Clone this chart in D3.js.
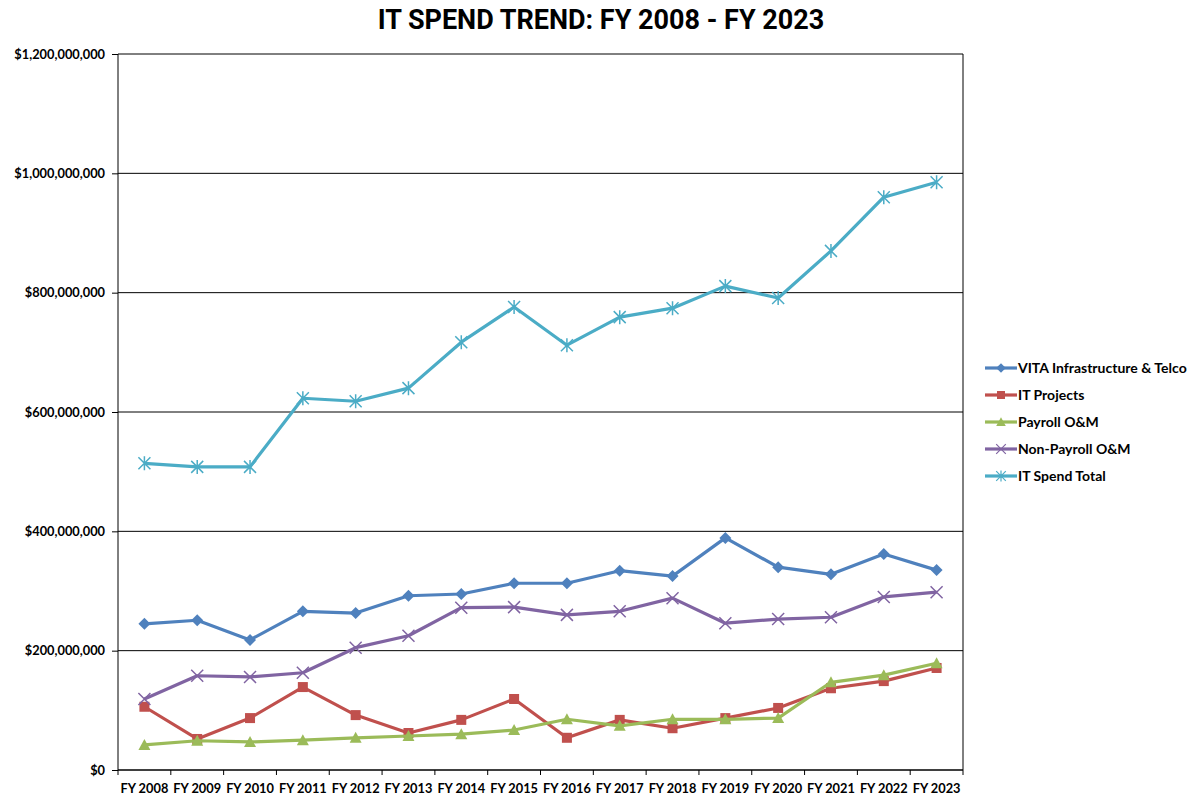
<!DOCTYPE html>
<html>
<head>
<meta charset="utf-8">
<title>IT Spend Trend</title>
<style>
  body { margin: 0; background: #fff; }
  svg text { font-family: "Lato", "Open Sans", sans-serif; }
  .title { font-family: Roboto, Arial, sans-serif; font-weight: bold; font-size: 27px; }
  .axis text { font-size: 12.8px; font-weight: bold; fill: #000; }
  .axis path, .axis line { stroke: #000; }
  .legend text { font-size: 14px; font-weight: bold; fill: #000; }
</style>
</head>
<body>
<svg width="1193" height="796"></svg>
<script src="https://d3js.org/d3.v7.min.js"></script>
<script>

var years = ["FY 2008", "FY 2009", "FY 2010", "FY 2011", "FY 2012", "FY 2013", "FY 2014", "FY 2015",
             "FY 2016", "FY 2017", "FY 2018", "FY 2019", "FY 2020", "FY 2021", "FY 2022", "FY 2023"];

var vitaInfra   = [245, 251, 218, 266, 263, 292, 295, 313, 313, 334, 325, 389, 340, 328, 362, 335];
var itProjects  = [106, 52, 87, 139, 92, 62, 84, 119, 54, 84, 70, 87, 104, 137, 149, 171];
var payrollOM   = [42, 49, 47, 50, 54, 57, 60, 67, 85, 74, 85, 85, 87, 147, 159, 179];
var nonPayroll  = [119, 158, 156, 163, 205, 225, 272, 273, 260, 266, 288, 246, 253, 256, 290, 298];
var spendTotal  = [514, 508, 508, 623, 618, 640, 717, 776, 712, 759, 774, 811, 791, 870, 960, 985];

var yTicks = [0, 200, 400, 600, 800, 1000, 1200];   // millions

var series = [
  { name: "VITA Infrastructure & Telco", values: vitaInfra,  color: "#4F81BD", marker: "diamond" },
  { name: "IT Projects",                 values: itProjects, color: "#C0504D", marker: "square" },
  { name: "Payroll O&M",                 values: payrollOM,  color: "#9BBB59", marker: "triangle" },
  { name: "Non-Payroll O&M",             values: nonPayroll, color: "#8064A2", marker: "cross" },
  { name: "IT Spend Total",              values: spendTotal, color: "#4BACC6", marker: "star" }
];

var svg = d3.select("svg"),
    margin = { top: 54, left: 118, right: 230, bottom: 26 },
    width = 1193 - margin.left - margin.right,
    height = 796 - margin.top - margin.bottom;

var g = svg.append("g").attr("transform", "translate(" + margin.left + "," + margin.top + ")");

var x = d3.scaleBand().domain(years).range([0, width]);
var y = d3.scaleLinear().domain([0, 1200]).range([height, 0]);

svg.append("text")
    .attr("class", "title")
    .attr("x", 601)
    .attr("y", 29)
    .attr("text-anchor", "middle")
    .text("IT SPEND TREND: FY 2008 - FY 2023");

// gridlines
g.selectAll(".grid")
  .data(yTicks)
  .enter().append("line")
    .attr("x1", 0).attr("x2", width)
    .attr("y1", function(d) { return y(d); })
    .attr("y2", function(d) { return y(d); })
    .attr("stroke", "#000")
    .attr("stroke-width", 1);

// right border
g.append("line")
    .attr("x1", width).attr("x2", width)
    .attr("y1", 0).attr("y2", height)
    .attr("stroke", "#000");

var yAxis = g.append("g")
    .attr("class", "axis")
    .call(d3.axisLeft(y).tickValues(yTicks).tickSize(6).tickPadding(7)
      .tickFormat(function(d) { return "$" + d3.format(",")(d * 1e6); }));
yAxis.select(".domain").attr("d", "M0," + height + "V0");

var xAxis = g.append("g")
    .attr("class", "axis")
    .attr("transform", "translate(0," + height + ")")
    .call(d3.axisBottom(x).tickSize(0).tickPadding(14));
xAxis.select(".domain").attr("d", "M0,0H" + width);
xAxis.selectAll(".sep")
  .data(d3.range(years.length + 1))
  .enter().append("line")
    .attr("x1", function(i) { return i * x.bandwidth(); })
    .attr("x2", function(i) { return i * x.bandwidth(); })
    .attr("y1", 0).attr("y2", 5)
    .attr("stroke", "#000");

var line = d3.line()
    .x(function(d, i) { return x(years[i]) + x.bandwidth() / 2; })
    .y(function(d) { return y(d); });

function drawMarker(sel, type, color) {
  if (type === "diamond") {
    sel.append("path").attr("d", "M0,-6L6,0L0,6L-6,0Z").attr("fill", color);
  } else if (type === "square") {
    sel.append("rect").attr("x", -5).attr("y", -5).attr("width", 10).attr("height", 10).attr("fill", color);
  } else if (type === "triangle") {
    sel.append("path").attr("d", "M0,-6L6,5L-6,5Z").attr("fill", color);
  } else if (type === "cross") {
    sel.append("path").attr("d", "M-6,-6L6,6M-6,6L6,-6").attr("stroke", color).attr("stroke-width", 1.5);
  } else if (type === "star") {
    sel.append("path").attr("d", "M-6,-6L6,6M-6,6L6,-6M0,-7L0,7").attr("stroke", color).attr("stroke-width", 1.5);
  }
}

series.forEach(function(s) {
  g.append("path")
      .datum(s.values)
      .attr("fill", "none")
      .attr("stroke", s.color)
      .attr("stroke-width", 3.2)
      .attr("stroke-linejoin", "round")
      .attr("d", line);

  g.selectAll(null)
    .data(s.values)
    .enter().append("g")
      .attr("transform", function(d, i) {
        return "translate(" + (x(years[i]) + x.bandwidth() / 2) + "," + y(d) + ")";
      })
      .each(function() { drawMarker(d3.select(this), s.marker, s.color); });
});

// legend
var legend = svg.append("g")
    .attr("class", "legend")
    .attr("transform", "translate(985,368)");

var item = legend.selectAll("g")
  .data(series)
  .enter().append("g")
    .attr("transform", function(d, i) { return "translate(0," + i * 27 + ")"; });

item.append("line")
    .attr("x1", 0).attr("x2", 32)
    .attr("stroke", function(d) { return d.color; })
    .attr("stroke-width", 3.2);
item.append("g")
    .attr("transform", "translate(16,0) scale(0.8)")
    .each(function(d) { drawMarker(d3.select(this), d.marker, d.color); });
item.append("text")
    .attr("x", 33)
    .attr("dy", "0.35em")
    .text(function(d) { return d.name; });

</script>
</body>
</html>
